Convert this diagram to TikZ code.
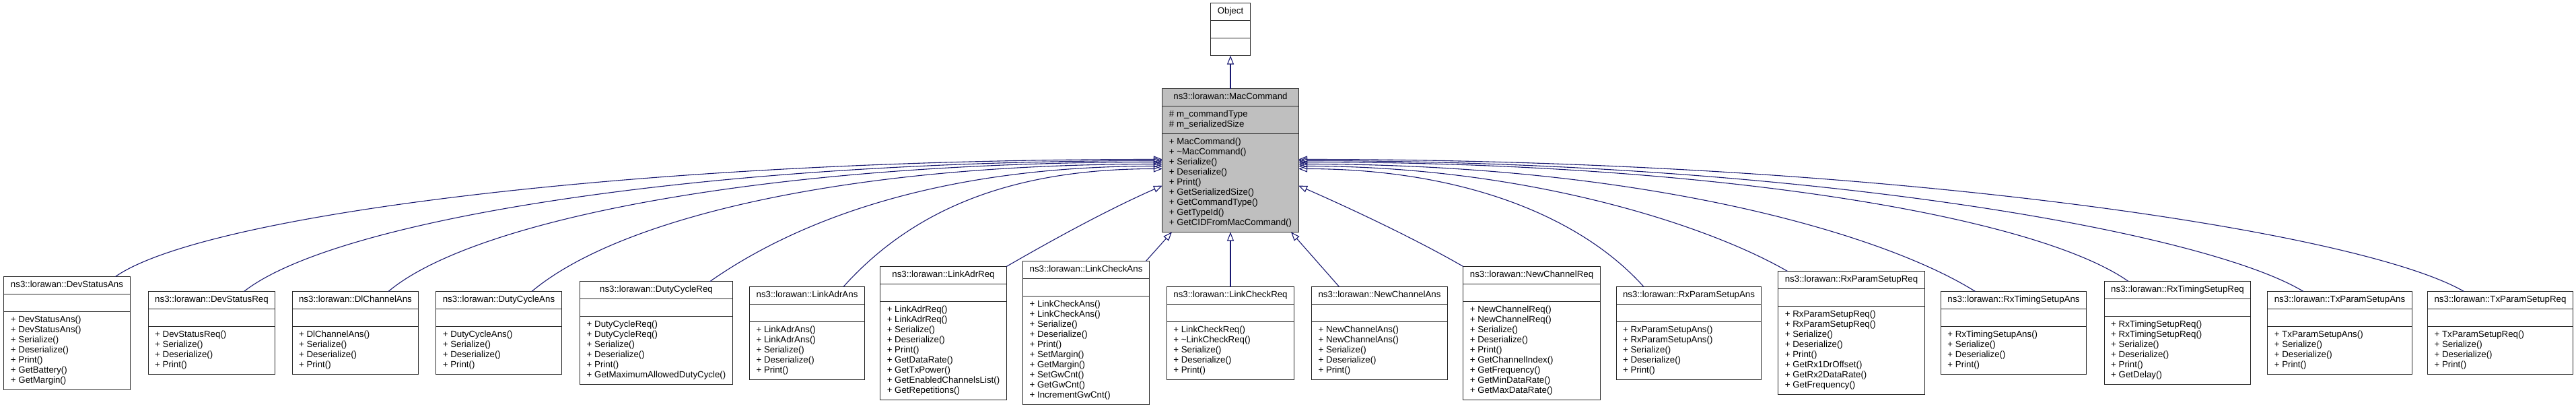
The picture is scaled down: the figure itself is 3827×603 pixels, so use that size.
\documentclass[tikz,border=0pt]{standalone}
\usepackage{fontspec}
\setmainfont{Liberation Sans}
\usetikzlibrary{arrows.meta, positioning, shapes.multipart}

\definecolor{midnight}{RGB}{25,25,112}
\newcommand\memberlist[1]{\begin{tabular}{@{}l@{}}#1\end{tabular}}

\tikzset{
    umlclass/.style={
        rectangle split,
        rectangle split parts=3,
        rectangle split part align={center,left,left},
        draw=black!85,
        line width=1pt,
        fill=white,
        inner xsep=10pt,
        inner ysep=5pt,
        outer sep=0pt,
        anchor=north,
        font=\fontsize{13.3}{15}\selectfont
    },
    baseclass/.style={umlclass, fill=black!25},
    inherit/.style={
        draw=midnight,
        line width=1.1pt,
        -{Triangle[open,length=13pt,width=10pt]}
    }
}

\begin{document}
\begin{tikzpicture}[x=1pt,y=1pt]
    \useasboundingbox (0,0) rectangle (3827,-603);

    \node[baseclass] (macCommand) at (1828,-131.5) {\strut ns3::lorawan::MacCommand
        \nodepart{two}\memberlist{\# m\_commandType\\\# m\_serializedSize}
        \nodepart{three}\memberlist{+ MacCommand()\\+ \textasciitilde MacCommand()\\+ Serialize()\\+ Deserialize()\\+ Print()\\+ GetSerializedSize()\\+ GetCommandType()\\+ GetTypeId()\\+ GetCIDFromMacCommand()}};
    \node[umlclass, above=49pt of macCommand] (object) {\strut Object
        \nodepart{two}\strut \nodepart{three}\strut};

    % derived commands
    \node[umlclass] (devStatusAns) at (99.5,-410.5) {\strut ns3::lorawan::DevStatusAns
        \nodepart{two}\strut
        \nodepart{three}\memberlist{+ DevStatusAns()\\+ DevStatusAns()\\+ Serialize()\\+ Deserialize()\\+ Print()\\+ GetBattery()\\+ GetMargin()}};
    \node[umlclass] (devStatusReq) at (314.5,-432.5) {\strut ns3::lorawan::DevStatusReq
        \nodepart{two}\strut
        \nodepart{three}\memberlist{+ DevStatusReq()\\+ Serialize()\\+ Deserialize()\\+ Print()}};
    \node[umlclass] (dlChannelAns) at (528,-432.5) {\strut ns3::lorawan::DlChannelAns
        \nodepart{two}\strut
        \nodepart{three}\memberlist{+ DlChannelAns()\\+ Serialize()\\+ Deserialize()\\+ Print()}};
    \node[umlclass] (dutyCycleAns) at (741,-432.5) {\strut ns3::lorawan::DutyCycleAns
        \nodepart{two}\strut
        \nodepart{three}\memberlist{+ DutyCycleAns()\\+ Serialize()\\+ Deserialize()\\+ Print()}};
    \node[umlclass] (dutyCycleReq) at (975,-417.5) {\strut ns3::lorawan::DutyCycleReq
        \nodepart{two}\strut
        \nodepart{three}\memberlist{+ DutyCycleReq()\\+ DutyCycleReq()\\+ Serialize()\\+ Deserialize()\\+ Print()\\+ GetMaximumAllowedDutyCycle()}};
    \node[umlclass] (linkAdrAns) at (1199,-425.5) {\strut ns3::lorawan::LinkAdrAns
        \nodepart{two}\strut
        \nodepart{three}\memberlist{+ LinkAdrAns()\\+ LinkAdrAns()\\+ Serialize()\\+ Deserialize()\\+ Print()}};
    \node[umlclass] (linkAdrReq) at (1401.5,-395.5) {\strut ns3::lorawan::LinkAdrReq
        \nodepart{two}\strut
        \nodepart{three}\memberlist{+ LinkAdrReq()\\+ LinkAdrReq()\\+ Serialize()\\+ Deserialize()\\+ Print()\\+ GetDataRate()\\+ GetTxPower()\\+ GetEnabledChannelsList()\\+ GetRepetitions()}};
    \node[umlclass] (linkCheckAns) at (1613.5,-387.5) {\strut ns3::lorawan::LinkCheckAns
        \nodepart{two}\strut
        \nodepart{three}\memberlist{+ LinkCheckAns()\\+ LinkCheckAns()\\+ Serialize()\\+ Deserialize()\\+ Print()\\+ SetMargin()\\+ GetMargin()\\+ SetGwCnt()\\+ GetGwCnt()\\+ IncrementGwCnt()}};
    \node[umlclass] (linkCheckReq) at (1828,-425.5) {\strut ns3::lorawan::LinkCheckReq
        \nodepart{two}\strut
        \nodepart{three}\memberlist{+ LinkCheckReq()\\+ \textasciitilde LinkCheckReq()\\+ Serialize()\\+ Deserialize()\\+ Print()}};
    \node[umlclass] (newChannelAns) at (2049.5,-425.5) {\strut ns3::lorawan::NewChannelAns
        \nodepart{two}\strut
        \nodepart{three}\memberlist{+ NewChannelAns()\\+ NewChannelAns()\\+ Serialize()\\+ Deserialize()\\+ Print()}};
    \node[umlclass] (newChannelReq) at (2275.5,-395.5) {\strut ns3::lorawan::NewChannelReq
        \nodepart{two}\strut
        \nodepart{three}\memberlist{+ NewChannelReq()\\+ NewChannelReq()\\+ Serialize()\\+ Deserialize()\\+ Print()\\+ GetChannelIndex()\\+ GetFrequency()\\+ GetMinDataRate()\\+ GetMaxDataRate()}};
    \node[umlclass] (rxParamSetupAns) at (2509,-425.5) {\strut ns3::lorawan::RxParamSetupAns
        \nodepart{two}\strut
        \nodepart{three}\memberlist{+ RxParamSetupAns()\\+ RxParamSetupAns()\\+ Serialize()\\+ Deserialize()\\+ Print()}};
    \node[umlclass] (rxParamSetupReq) at (2750.5,-402.5) {\strut ns3::lorawan::RxParamSetupReq
        \nodepart{two}\strut
        \nodepart{three}\memberlist{+ RxParamSetupReq()\\+ RxParamSetupReq()\\+ Serialize()\\+ Deserialize()\\+ Print()\\+ GetRx1DrOffset()\\+ GetRx2DataRate()\\+ GetFrequency()}};
    \node[umlclass] (rxTimingSetupAns) at (2991.5,-432.5) {\strut ns3::lorawan::RxTimingSetupAns
        \nodepart{two}\strut
        \nodepart{three}\memberlist{+ RxTimingSetupAns()\\+ Serialize()\\+ Deserialize()\\+ Print()}};
    \node[umlclass] (rxTimingSetupReq) at (3235,-417.5) {\strut ns3::lorawan::RxTimingSetupReq
        \nodepart{two}\strut
        \nodepart{three}\memberlist{+ RxTimingSetupReq()\\+ RxTimingSetupReq()\\+ Serialize()\\+ Deserialize()\\+ Print()\\+ GetDelay()}};
    \node[umlclass] (txParamSetupAns) at (3476,-432.5) {\strut ns3::lorawan::TxParamSetupAns
        \nodepart{two}\strut
        \nodepart{three}\memberlist{+ TxParamSetupAns()\\+ Serialize()\\+ Deserialize()\\+ Print()}};
    \node[umlclass] (txParamSetupReq) at (3714.5,-432.5) {\strut ns3::lorawan::TxParamSetupReq
        \nodepart{two}\strut
        \nodepart{three}\memberlist{+ TxParamSetupReq()\\+ Serialize()\\+ Deserialize()\\+ Print()}};

    % inheritance
    \draw[inherit] (macCommand.north) -- (object.south);
    \draw[inherit] ([xshift=72pt]devStatusAns.north) .. controls +(35:160) and +(-780,0) .. ([yshift=-105pt]macCommand.north west);
    \draw[inherit] ([xshift=48pt]devStatusReq.north) .. controls +(38:175) and +(-680,0) .. ([yshift=-107pt]macCommand.north west);
    \draw[inherit] ([xshift=49pt]dlChannelAns.north) .. controls +(40:170) and +(-575,0) .. ([yshift=-109pt]macCommand.north west);
    \draw[inherit] ([xshift=49pt]dutyCycleAns.north) .. controls +(40:170) and +(-470,0) .. ([yshift=-112pt]macCommand.north west);
    \draw[inherit] ([xshift=80pt]dutyCycleReq.north) .. controls +(35:155) and +(-335,0) .. ([yshift=-115pt]macCommand.north west);
    \draw[inherit] ([xshift=54pt]linkAdrAns.north) .. controls +(48:150) and +(-230,0) .. ([yshift=-119pt]macCommand.north west);
    \draw[inherit] (linkAdrReq.north east) .. controls +(30:80) and +(-80,-35) .. ([yshift=-144pt]macCommand.north west);
    \draw[inherit] ([xshift=-5pt]linkCheckAns.north east) -- ([xshift=14pt]macCommand.south west);
    \draw[inherit] (linkCheckReq.north) -- (macCommand.south);
    \draw[inherit] ([xshift=-60pt]newChannelAns.north) -- ([xshift=-11pt]macCommand.south east);
    \draw[inherit] (newChannelReq.north west) .. controls +(150:80) and +(80,-35) .. ([yshift=-144pt]macCommand.north east);
    \draw[inherit] ([xshift=-67pt]rxParamSetupAns.north) .. controls +(132:150) and +(230,0) .. ([yshift=-119pt]macCommand.north east);
    \draw[inherit] ([xshift=-95pt]rxParamSetupReq.north) .. controls +(150:140) and +(335,0) .. ([yshift=-115pt]macCommand.north east);
    \draw[inherit] ([xshift=-57pt]rxTimingSetupAns.north) .. controls +(148:170) and +(500,0) .. ([yshift=-112pt]macCommand.north east);
    \draw[inherit] ([xshift=-73pt]rxTimingSetupReq.north) .. controls +(145:170) and +(615,0) .. ([yshift=-109pt]macCommand.north east);
    \draw[inherit] ([xshift=-54pt]txParamSetupAns.north) .. controls +(149:175) and +(745,0) .. ([yshift=-107pt]macCommand.north east);
    \draw[inherit] ([xshift=-54pt]txParamSetupReq.north) .. controls +(150:180) and +(865,0) .. ([yshift=-105pt]macCommand.north east);
\end{tikzpicture}
\end{document}
